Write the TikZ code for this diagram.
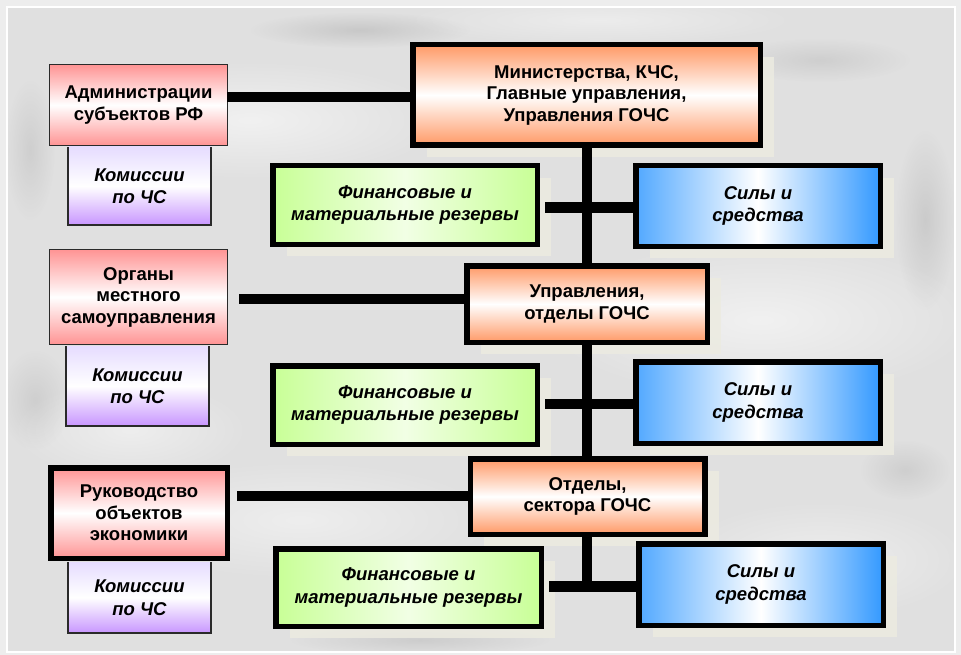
\documentclass[tikz,border=0pt]{standalone}
\usepackage{fontspec}
\setmainfont{Liberation Sans}
\usetikzlibrary{fadings,shadows}
\definecolor{pinkc}{HTML}{FF9494}
\definecolor{orangec}{HTML}{FF9966}
\definecolor{purplec}{HTML}{C896FF}
\definecolor{lavc}{HTML}{E6DCFF}
\definecolor{greenc}{HTML}{C8FF96}
\definecolor{bluec}{HTML}{3399FF}
\definecolor{bgc}{HTML}{E0E0E0}
\definecolor{outc}{HTML}{EDEDED}
\definecolor{creamc}{HTML}{ECEBE1}
\definecolor{edgec}{HTML}{2A2A2A}
\tikzfading[name=fuzzy, inner color=transparent!0, outer color=transparent!100]
\begin{document}
\begin{tikzpicture}[x=1pt,y=-1pt,
  box/.style={inner sep=2pt, outer sep=0pt, align=center, text=black},
  upfont/.style={font=\fontsize{18.5}{21.5}\selectfont\bfseries},
  itfont/.style={font=\fontsize{18.5}{22.5}\selectfont\bfseries\itshape},
  heavy/.style={box, draw=black, line width=5.5pt},
  light/.style={box, draw=edgec, line width=1.2pt},
  shad/.style={drop shadow={shadow xshift=14pt, shadow yshift=-12pt, fill=creamc, opacity=0.85}},
  pinkbox/.style={top color=pinkc, bottom color=pinkc, middle color=white, upfont},
  orangebox/.style={top color=orangec, bottom color=orangec, middle color=white, upfont},
  purplebox/.style={box, top color=lavc, bottom color=purplec, middle color=white, itfont},
  greenbox/.style={left color=greenc, right color=greenc, middle color=white!75!greenc, itfont},
  bluebox/.style={left color=bluec!85!white, right color=bluec, middle color=white, itfont},
  conn/.style={line width=10.5pt, black},
  kline/.style={draw=edgec, line width=1.2pt}
]
% background
\useasboundingbox (0,0) rectangle (961,655);
\fill[outc] (0,0) rectangle (961,655);
\fill[bgc] (7,7) rectangle (955,652);
% marble texture
\begin{scope}
\clip (7,7) rectangle (955,652);
\fill[white, opacity=0.55, path fading=fuzzy] (250,120) ellipse (200 and 60);
\fill[white, opacity=0.55, path fading=fuzzy] (760,320) ellipse (220 and 80);
\fill[white, opacity=0.45, path fading=fuzzy] (300,520) ellipse (200 and 60);
\fill[white, opacity=0.45, path fading=fuzzy] (820,560) ellipse (150 and 60);
\fill[white, opacity=0.45, path fading=fuzzy] (130,430) ellipse (120 and 50);
\fill[white, opacity=0.4, path fading=fuzzy] (600,20) ellipse (200 and 25);
\fill[gray, opacity=0.25, path fading=fuzzy] (360,30) ellipse (110 and 18);
\fill[gray, opacity=0.22, path fading=fuzzy] (925,220) ellipse (30 and 90);
\fill[gray, opacity=0.18, path fading=fuzzy] (35,400) ellipse (35 and 50);
\fill[gray, opacity=0.18, path fading=fuzzy] (905,470) ellipse (45 and 30);
\fill[gray, opacity=0.2, path fading=fuzzy] (420,640) ellipse (130 and 15);
\fill[gray, opacity=0.18, path fading=fuzzy] (30,150) ellipse (25 and 70);
\fill[gray, opacity=0.18, path fading=fuzzy] (820,60) ellipse (90 and 22);
\end{scope}
\draw[white, line width=2pt] (7,7) rectangle (955,652);

% boxes
\node[heavy, orangebox, shad, minimum width=347.5pt, minimum height=100.5pt] (min) at (586.5,95)
  {Министерства, КЧС,\\Главные управления,\\Управления ГОЧС};
\node[purplebox, minimum width=143pt, minimum height=78pt] (kom1) at (139.5,186) {Комиссии\\по ЧС};
\node[light, pinkbox, minimum width=177.8pt, minimum height=80.8pt] (adm) at (138.5,105)
  {Администрации\\субъектов РФ};
\node[heavy, greenbox, shad, minimum width=264.5pt, minimum height=78.5pt] (fin1) at (405,205)
  {Финансовые и\\материальные резервы};
\node[heavy, bluebox, shad, minimum width=244.5pt, minimum height=80.5pt] (sil1) at (758,206)
  {Силы и\\средства};

\node[purplebox, minimum width=143pt, minimum height=80pt] (kom2) at (137.5,386) {Комиссии\\по ЧС};
\node[light, pinkbox, minimum width=177.8pt, minimum height=94.8pt] (org) at (138.5,297)
  {Органы\\местного\\самоуправления};
\node[heavy, orangebox, shad, minimum width=240.5pt, minimum height=76.5pt] (upr) at (587,304)
  {Управления,\\отделы ГОЧС};
\node[heavy, greenbox, shad, minimum width=264.5pt, minimum height=78.5pt] (fin2) at (405,405)
  {Финансовые и\\материальные резервы};
\node[heavy, bluebox, shad, minimum width=244.5pt, minimum height=81.5pt] (sil2) at (758,402.5)
  {Силы и\\средства};

\node[purplebox, minimum width=143pt, minimum height=71pt] (kom3) at (139.5,597.5) {Комиссии\\по ЧС};
\node[heavy, pinkbox, minimum width=176.5pt, minimum height=90.5pt] (ruk) at (139,513)
  {Руководство\\объектов\\экономики};
\node[heavy, orangebox, shad, minimum width=234.5pt, minimum height=75.5pt] (otd) at (587.5,496.5)
  {Отделы,\\сектора ГОЧС};
\node[heavy, greenbox, shad, minimum width=265.5pt, minimum height=77.5pt] (fin3) at (408.5,587.5)
  {Финансовые и\\материальные резервы};
\node[heavy, bluebox, shad, minimum width=244.5pt, minimum height=81.5pt] (sil3) at (761,584.5)
  {Силы и\\средства};

% commission borders (no top edge)
\draw[kline] (kom1.north west) -- (kom1.south west) -- (kom1.south east) -- (kom1.north east);
\draw[kline] (kom2.north west) -- (kom2.south west) -- (kom2.south east) -- (kom2.north east);
\draw[kline] (kom3.north west) -- (kom3.south west) -- (kom3.south east) -- (kom3.north east);

% connectors
\coordinate (spine) at (587,0);
\draw[conn] (adm.east |- 0,97) -- (min.west |- 0,97);
\draw[conn] (min.south -| spine) -- (upr.north -| spine);
\draw[conn] (upr.south -| spine) -- (otd.north -| spine);
\coordinate (j3) at (587,586.5);
\draw[conn] (otd.south -| spine) -- ([yshift=-5.25pt]j3);
\draw[conn, shorten <=8pt] (fin1.east |- 0,207.5) -- (sil1.west |- 0,207.5);
\draw[conn, shorten <=8pt] (fin2.east |- 0,404) -- (sil2.west |- 0,404);
\draw[conn, shorten <=8pt] (fin3.east |- j3) -- (sil3.west |- j3);
\draw[conn, shorten <=12pt] (org.east |- 0,299) -- (upr.west |- 0,299);
\draw[conn, shorten <=10pt] (ruk.east |- 0,496) -- (otd.west |- 0,496);
\end{tikzpicture}
\end{document}
